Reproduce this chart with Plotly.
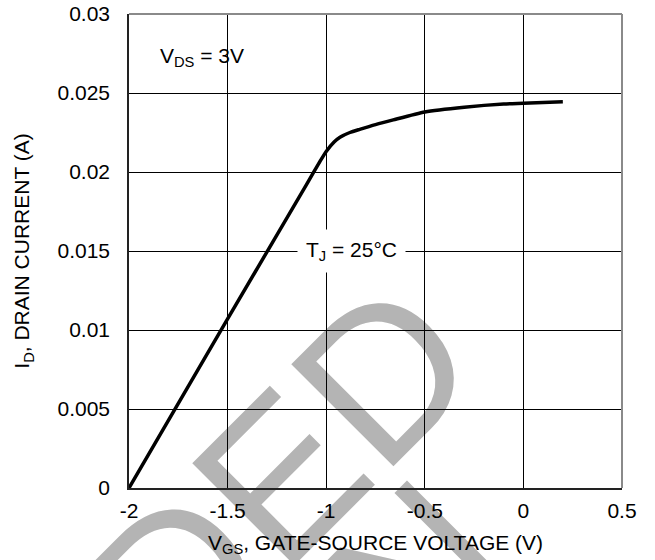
import plotly.graph_objects as go

# Data
vgs = [-2.0, -1.5, -1.1, -1.03, -1.0, -0.96, -0.93, -0.88, -0.83, -0.75,
       -0.66, -0.5, -0.3, -0.1, 0.0, 0.2]
i_d = [0.0, 0.0107, 0.0192, 0.0207, 0.0213, 0.0219, 0.0222, 0.0225, 0.0227,
       0.0230, 0.0233, 0.0238, 0.0241, 0.0243, 0.02435, 0.02445]

x_ticks = [-2, -1.5, -1, -0.5, 0, 0.5]
x_tick_text = ["-2", "-1.5", "-1", "-0.5", "0", "0.5"]
y_ticks = [0, 0.005, 0.01, 0.015, 0.02, 0.025, 0.03]
y_tick_text = ["0", "0.005", "0.01", "0.015", "0.02", "0.025", "0.03"]

FONT = "Liberation Sans, Arial, sans-serif"
FS = 21

W, H = 655, 560
ML, MR, MT, MB = 129, 33, 14, 72
PW = W - ML - MR
PH = H - MT - MB


def px2paper(px, py):
    """page pixel -> paper coordinates"""
    return (px - ML) / PW, (H - MB - py) / PH


def watermark(text, cx, cy, size):
    x0, y0 = px2paper(cx - 100, cy + 100)
    x1, y1 = px2paper(cx + 100, cy - 100)
    return dict(
        type="line", xref="paper", yref="paper", x0=x0, y0=y0, x1=x1, y1=y1,
        layer="below", line=dict(color="rgba(255,255,255,0)", width=1),
        label=dict(text=text, textangle=-45, textposition="middle",
                   xanchor="center", yanchor="middle",
                   font=dict(family=FONT, size=size, color="#b4b4b4")),
    )


fig = go.Figure()
fig.add_trace(go.Scatter(
    x=vgs, y=i_d, mode="lines",
    line=dict(color="black", width=3.5, shape="spline", smoothing=0.6),
    showlegend=False, hoverinfo="skip",
))

fig.update_layout(
    width=W, height=H,
    margin=dict(l=ML, r=MR, t=MT, b=MB, autoexpand=False),
    paper_bgcolor="white", plot_bgcolor="white",
    font=dict(family=FONT, size=FS, color="black"),
    xaxis=dict(
        range=[-2, 0.5], tickvals=x_ticks, ticktext=x_tick_text,
        showgrid=True, gridcolor="black", gridwidth=1,
        showline=True, linecolor="#222", linewidth=1.5, mirror=False,
        zeroline=False, ticks="", ticklen=0, ticklabelstandoff=3,
        ticklabeloverflow="allow", automargin=False,
        tickfont=dict(family=FONT, size=FS, color="black"),
        title=dict(text="V<sub>GS</sub>, GATE-SOURCE VOLTAGE (V)", standoff=14,
                   font=dict(family=FONT, size=FS, color="black")),
    ),
    yaxis=dict(
        range=[0, 0.03], tickvals=y_ticks, ticktext=y_tick_text,
        showgrid=True, gridcolor="black", gridwidth=1,
        showline=True, linecolor="#222", linewidth=1.5, mirror=False,
        zeroline=False, ticks="", ticklen=0, ticklabelstandoff=13,
        ticklabeloverflow="allow", automargin=False,
        tickfont=dict(family=FONT, size=FS, color="black"),
        title=dict(text="I<sub>D</sub>, DRAIN CURRENT (A)", standoff=22,
                   font=dict(family=FONT, size=FS, color="black")),
    ),
    shapes=[
        dict(type="line", xref="paper", yref="paper", x0=0, x1=1, y0=1, y1=1,
             line=dict(color="#8a8a8a", width=2)),
        dict(type="line", xref="paper", yref="paper", x0=1, x1=1, y0=0, y1=1,
             line=dict(color="#8a8a8a", width=2)),
        watermark("NOT RECOMMENDED", -351, 1080, 210),
        watermark("FOR NEW DESIGN", -200, 1161, 210),
    ],
    annotations=[
        dict(text="V<sub>DS</sub> = 3V", xref="x", yref="y",
             x=-1.855, y=0.0273, xanchor="left", yanchor="middle",
             showarrow=False, font=dict(family=FONT, size=FS, color="black")),
        dict(text="T<sub>J</sub> = 25°C", xref="x", yref="y",
             x=-0.874, y=0.015, xanchor="center", yanchor="middle",
             showarrow=False, bgcolor="white", borderpad=8,
             font=dict(family=FONT, size=FS, color="black")),
    ],
)

fig.write_html("out.html", config={"displayModeBar": False},
               post_script="document.body.style.margin='0';")
